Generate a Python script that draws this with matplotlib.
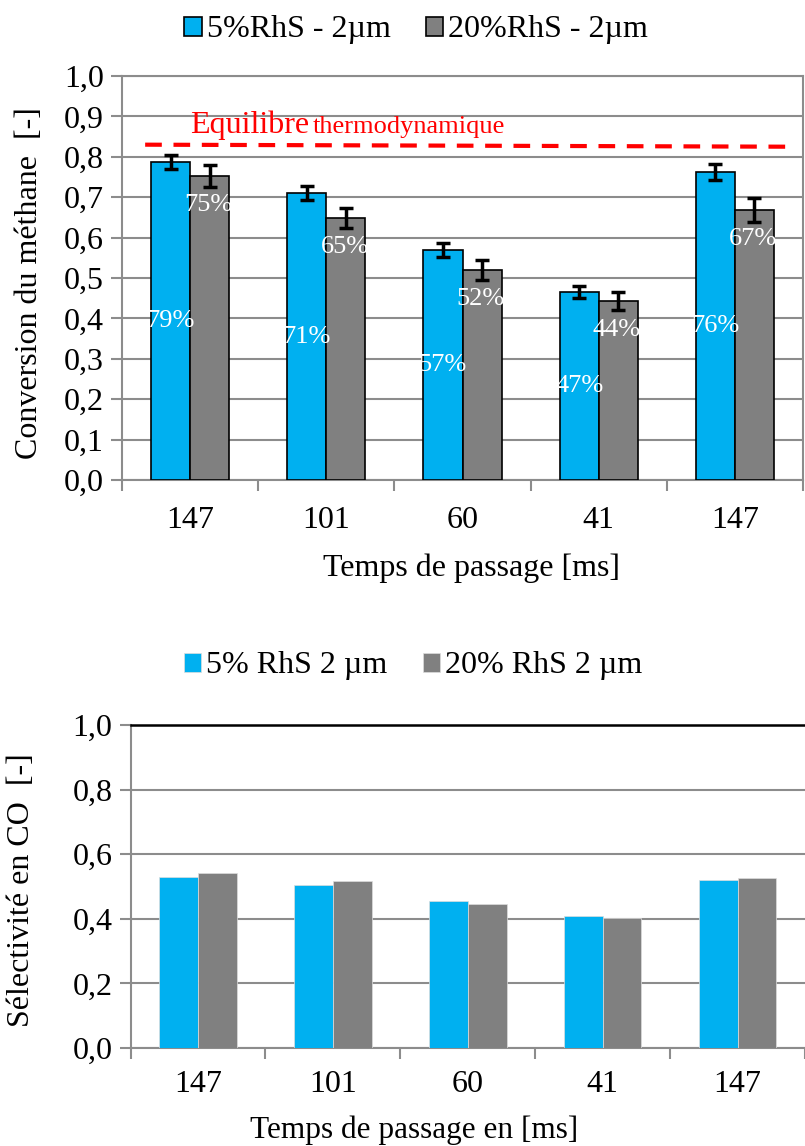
import matplotlib
matplotlib.use("Agg")
import matplotlib.pyplot as plt
import numpy as np

plt.rcParams['font.family'] = ['Liberation Serif', 'DejaVu Serif']

# --- data ---
categories = ['147', '101', '60', '41', '147']

conv_5 = [0.787, 0.710, 0.569, 0.465, 0.762]
conv_20 = [0.752, 0.649, 0.520, 0.443, 0.668]
err_5 = [0.018, 0.017, 0.017, 0.015, 0.019]
err_20 = [0.027, 0.025, 0.025, 0.023, 0.029]
lab_5 = ['79%', '71%', '57%', '47%', '76%']
lab_20 = ['75%', '65%', '52%', '44%', '67%']

eq_x = [-0.33, 4.39]
eq_y = [0.830, 0.825]

sel_5 = [0.530, 0.505, 0.454, 0.410, 0.520]
sel_20 = [0.541, 0.516, 0.445, 0.402, 0.527]

BLUE = '#00B0F0'
GREY = '#808080'
AXC = '#8c8c8c'
FS = 23

fig = plt.figure(figsize=(8.05, 11.46), dpi=100)
x = np.arange(len(categories))
w = 0.287

# ---------- top chart ----------
ax = fig.add_axes([122/805, 1-480/1146, 681/805, 404/1146])
ax.bar(x - w/2, conv_5, w, color=BLUE, edgecolor='black', linewidth=1.2, zorder=3,
       yerr=err_5, error_kw=dict(ecolor='black', elinewidth=2.5, capsize=5, capthick=2.5, zorder=4),
       label='5%RhS - 2µm')
ax.bar(x + w/2, conv_20, w, color=GREY, edgecolor='black', linewidth=1.2, zorder=3,
       yerr=err_20, error_kw=dict(ecolor='black', elinewidth=2.5, capsize=5, capthick=2.5, zorder=4),
       label='20%RhS - 2µm')
for i in range(len(categories)):
    ax.text(x[i] - w/2, conv_5[i]/2, lab_5[i], color='white', fontsize=19,
            ha='center', va='center', zorder=5)
    ax.text(x[i] + w/2 - 0.01, conv_20[i] - 0.072, lab_20[i], color='white', fontsize=19,
            ha='center', va='center', zorder=5)
ax.plot(eq_x, eq_y, color='#ff0000', linestyle=(0, (4, 2.8)), linewidth=3, zorder=4)
ax.text(0.0, 0.858, 'Equilibre', color='#ff0000', fontsize=FS, ha='left', va='baseline')
ax.text(0.90, 0.858, 'thermodynamique', color='#ff0000', fontsize=19, ha='left', va='baseline')

ax.set_xlim(-0.5, 4.5)
ax.set_ylim(0, 1.0)
ax.set_yticks(np.arange(0, 1.01, 0.1))
ax.set_yticklabels([f'{v:.1f}'.replace('.', ',') for v in np.arange(0, 1.01, 0.1)])
ax.set_xticks(x)
ax.set_xticklabels(categories)
ax.set_xticks(np.arange(-0.5, 5, 1), minor=True)
ax.tick_params(axis='x', which='major', length=0, labelsize=FS, pad=19)
ax.tick_params(axis='x', which='minor', length=8, color=AXC, width=1.5)
ax.tick_params(axis='y', length=8, color=AXC, width=1.5, labelsize=FS, pad=5)
ax.yaxis.grid(True, color=AXC, linewidth=1.5, zorder=0)
ax.set_axisbelow(True)
for s in ax.spines.values():
    s.set_color(AXC)
    s.set_linewidth(1.5)
fig.text(30/805, 1-283/1146, 'Conversion du méthane  [-]', fontsize=FS,
         rotation=90, ha='center', va='center')
fig.text(471/805, 1-568/1146, 'Temps de passage [ms]', fontsize=FS,
         ha='center', va='center')
h, l = ax.get_legend_handles_labels()
fig.legend(h, l, loc='center', bbox_to_anchor=(416/805, 1-30/1146), ncol=2, frameon=False,
           fontsize=FS, handlelength=0.55, handleheight=0.55, handletextpad=0.15,
           columnspacing=1.1, borderpad=0)

# ---------- bottom chart ----------
ax2 = fig.add_axes([130.6/805, 1-1048/1146, 674.4/805, 323/1146])
ax2.bar(x - w/2, sel_5, w, color=BLUE, edgecolor='#dddddd', linewidth=0.5, zorder=3,
        label='5% RhS 2 µm')
ax2.bar(x + w/2, sel_20, w, color=GREY, edgecolor='#dddddd', linewidth=0.5, zorder=3,
        label='20% RhS 2 µm')
ax2.set_xlim(-0.5, 4.5)
ax2.set_ylim(0, 1.0)
yt = np.arange(0, 1.01, 0.2)
ax2.set_yticks(yt)
ax2.set_yticklabels([f'{v:.1f}'.replace('.', ',') for v in yt])
ax2.set_xticks(x)
ax2.set_xticklabels(categories)
ax2.set_xticks(np.arange(-0.5, 5, 1), minor=True)
ax2.tick_params(axis='x', which='major', length=0, labelsize=FS, pad=16)
ax2.tick_params(axis='x', which='minor', length=8, color=AXC, width=1.5)
ax2.tick_params(axis='y', length=8, color=AXC, width=1.5, labelsize=FS, pad=5)
ax2.yaxis.grid(True, color=AXC, linewidth=1.5, zorder=0)
ax2.set_axisbelow(True)
ax2.spines['right'].set_visible(False)
ax2.spines['top'].set_color('black')
ax2.spines['top'].set_linewidth(1.8)
ax2.spines['left'].set_color(AXC)
ax2.spines['bottom'].set_color(AXC)
ax2.spines['left'].set_linewidth(1.5)
ax2.spines['bottom'].set_linewidth(1.5)
fig.text(22/805, 1-890/1146, 'Sélectivité en CO  [-]', fontsize=FS,
         rotation=90, ha='center', va='center')
fig.text(414/805, 1-1130/1146, 'Temps de passage en [ms]', fontsize=22.5,
         ha='center', va='center')
h2, l2 = ax2.get_legend_handles_labels()
fig.legend(h2, l2, loc='center', bbox_to_anchor=(413/805, 1-666/1146), ncol=2, frameon=False,
           fontsize=FS, handlelength=0.55, handleheight=0.55, handletextpad=0.15,
           columnspacing=1.1, borderpad=0)

fig.savefig('out.png', dpi=100)
